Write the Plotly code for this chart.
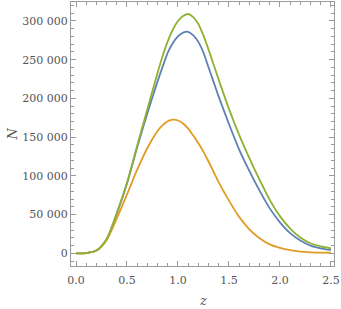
import plotly.graph_objects as go

z = [0.0, 0.1, 0.2, 0.3, 0.4, 0.5, 0.6, 0.7, 0.8, 0.85, 0.9, 0.95, 1.0, 1.05,
     1.1, 1.15, 1.2, 1.25, 1.3, 1.35, 1.4, 1.5, 1.6, 1.7, 1.8, 1.9, 2.0, 2.1,
     2.2, 2.3, 2.4, 2.5]

n_blue = [0, 300, 3500, 18000, 51000, 90000, 137000, 181000, 222000, 241000,
          259000, 271500, 280000, 285000, 286000, 281500, 273000, 259000,
          240000, 221000, 202000, 167000, 134000, 106500, 81000, 58000, 40000,
          26000, 16500, 10000, 6500, 4300]

n_orange = [0, 300, 3500, 17000, 45000, 76000, 108000, 136000, 158000, 165500,
            170500, 172500, 171500, 167500, 161000, 152000, 142000, 131000,
            118500, 105000, 91500, 68000, 47000, 31000, 19500, 11500, 7000,
            4000, 2200, 1300, 900, 700]

n_green = [0, 300, 3500, 18500, 52000, 91000, 139000, 186000, 233000, 255000,
           274000, 289000, 300000, 306500, 309000, 305000, 296000, 281000,
           263000, 243500, 224000, 186500, 153000, 123000, 95000, 69000, 48000,
           32000, 20500, 13000, 9000, 6500]

x_ticks = [0.0, 0.5, 1.0, 1.5, 2.0, 2.5]
x_labels = ["0.0", "0.5", "1.0", "1.5", "2.0", "2.5"]
y_ticks = [0, 50000, 100000, 150000, 200000, 250000, 300000]
y_labels = ["0", "50 000", "100 000", "150 000", "200 000", "250 000", "300 000"]

colors = {"blue": "#5E81B5", "orange": "#E19C24", "green": "#8FB032"}

fig = go.Figure()
for name, vals in [("blue", n_blue), ("orange", n_orange), ("green", n_green)]:
    fig.add_trace(go.Scatter(x=z, y=vals, mode="lines",
                             line=dict(color=colors[name], width=1.8, shape="spline", smoothing=0.8),
                             showlegend=False, hoverinfo="skip"))

frame = "#9a9a9a"
tickfont = dict(family="DejaVu Serif", size=11, color="#555555")
common = dict(showline=True, linecolor=frame, linewidth=1, mirror="allticks",
              ticks="inside", ticklen=5, tickcolor=frame, tickwidth=1,
              showgrid=False, zeroline=False, tickfont=tickfont, automargin=False)

fig.update_xaxes(range=[-0.049, 2.53], tickmode="array", tickvals=x_ticks, ticktext=x_labels,
                 ticklabelstandoff=4,
                 minor=dict(tickmode="linear", tick0=0, dtick=0.1, ticks="inside", ticklen=3,
                            tickcolor=frame, showgrid=False),
                 **common)
fig.update_yaxes(range=[-16400, 324500], tickmode="array", tickvals=y_ticks, ticktext=y_labels,
                 minor=dict(tickmode="linear", tick0=0, dtick=10000, ticks="inside", ticklen=3,
                            tickcolor=frame, showgrid=False),
                 **common)

fig.add_annotation(text="<i>N</i>", xref="paper", yref="paper", x=-0.226, y=0.5,
                   xanchor="center", yanchor="middle",
                   showarrow=False, textangle=-90,
                   font=dict(family="DejaVu Serif", size=13, color="#555555"))
fig.add_annotation(text="<i>z</i>", xref="paper", yref="paper", x=0.5, y=-0.129,
                   xanchor="center", yanchor="middle",
                   showarrow=False,
                   font=dict(family="DejaVu Serif", size=13, color="#555555"))

fig.update_layout(width=341, height=309, margin=dict(l=71, r=7, t=2, b=43),
                  paper_bgcolor="white", plot_bgcolor="white")
fig.write_html("out.html", config={"displayModeBar": False},
               post_script="document.body.style.margin='0';document.body.style.overflow='hidden';")
